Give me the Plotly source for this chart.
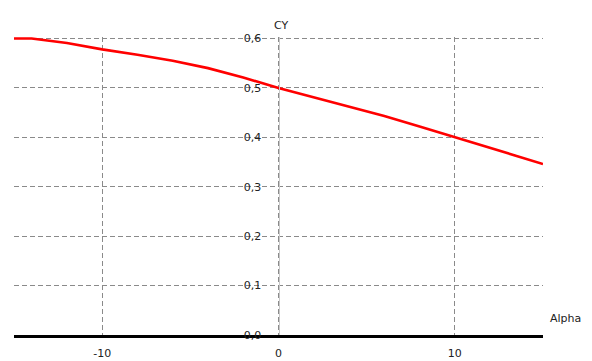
import plotly.graph_objects as go

# Data
alpha = [-15, -14, -12, -10, -8, -6, -4, -2, 0, 2, 4, 6, 8, 10, 12, 14, 15]
cy = [0.600, 0.600, 0.591, 0.578, 0.567, 0.555, 0.540, 0.521, 0.500, 0.481, 0.462, 0.443, 0.422, 0.400, 0.378, 0.356, 0.346]

x_tickvals = [-10, 0, 10]
x_ticktext = ["-10", "0", "10"]
y_tickvals = [0.0, 0.1, 0.2, 0.3, 0.4, 0.5, 0.6]
y_ticktext = ["0,0", "0,1", "0,2", "0,3", "0,4", "0,5", "0,6"]

fig = go.Figure()
fig.add_trace(go.Scatter(x=alpha, y=cy, mode="lines", line=dict(color="#ff0000", width=2.6),
                         showlegend=False, hoverinfo="skip"))

font = dict(family="DejaVu Sans", size=11, color="#222222")
grid = dict(showgrid=True, gridcolor="#8a8a8a", gridwidth=1, griddash="5px,3px")

fig.update_layout(
    width=592, height=361,
    margin=dict(l=14, r=49, t=37, b=26, autoexpand=False),
    paper_bgcolor="white", plot_bgcolor="white",
    font=font,
    xaxis=dict(range=[-15, 15], tickvals=x_tickvals, ticktext=x_ticktext, zeroline=False,
               showline=True, linecolor="black", linewidth=2.6, ticks="", ticklabelstandoff=6,
               tickfont=font, fixedrange=True, automargin=False, **grid),
    yaxis=dict(range=[0, 0.603], tickvals=y_tickvals, ticktext=y_ticktext, zeroline=False,
               anchor="free", position=0.5, showline=True, linecolor="#c8c8c8", linewidth=1,
               ticks="", ticklabelstandoff=15, tickfont=font, fixedrange=True, automargin=False, **grid),
    annotations=[
        dict(text="CY", x=0, y=1, xref="x", yref="paper", xanchor="center", yanchor="bottom",
             showarrow=False, xshift=2, yshift=3, font=font),
        dict(text="Alpha", x=1, y=0, xref="paper", yref="paper", xanchor="left", yanchor="bottom",
             showarrow=False, xshift=5, yshift=8, font=font),
    ],
)

fig.write_html("out.html")
